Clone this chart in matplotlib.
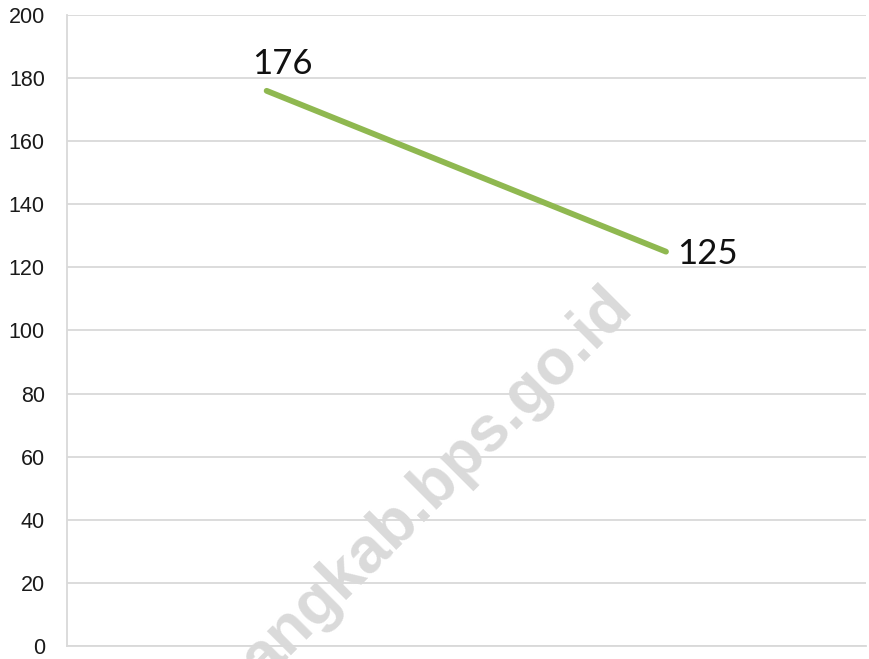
import matplotlib
matplotlib.use('Agg')
import matplotlib.pyplot as plt

#------------------------------
categories = ['2019', '2020']
values = [176, 125]
yticks = [0, 20, 40, 60, 80, 100, 120, 140, 160, 180, 200]
#------------------------------

fig = plt.figure(figsize=(8.7, 6.59), dpi=100)
ax = fig.add_axes([0.077, 0.02, 0.918, 0.957])

x = list(range(len(categories)))
ax.plot(x, values, '-', c='#8fb850', lw=4.2, solid_capstyle='round', zorder=3)

# etiquetas de datos
ax.annotate('%d' % values[0], (x[0], values[0]), xytext=(11, 8), textcoords='offset points',
            ha='center', va='bottom', fontsize=25, family='Lato', color='#111111')
ax.annotate('%d' % values[1], (x[1], values[1]), xytext=(8, -2), textcoords='offset points',
            ha='left', va='center', fontsize=25, family='Lato', color='#111111')

ax.set_xlim(-0.5, len(categories) - 0.5)
ax.set_ylim(0, 200)
ax.set_yticks(yticks)
ax.set_xticks([])
ax.tick_params(axis='y', length=0, pad=16, labelsize=15.5)
for lab in ax.get_yticklabels():
    lab.set_family('Liberation Sans')
    lab.set_color('#1a1a1a')
ax.yaxis.grid(True, color='#d9d9d9', lw=1.3)
ax.set_axisbelow(True)
for s in ['top', 'right']:
    ax.spines[s].set_visible(False)
for s in ['left', 'bottom']:
    ax.spines[s].set_color('#d9d9d9')
    ax.spines[s].set_linewidth(1.3)

# marca de agua
fig.text(0.502, 0.2655, 'angkab.bps.go.id', rotation=45, ha='center', va='center',
         fontsize=46, family='Liberation Sans', weight='bold', color='#dadada', zorder=0)

fig.savefig('out.png', dpi=100)
